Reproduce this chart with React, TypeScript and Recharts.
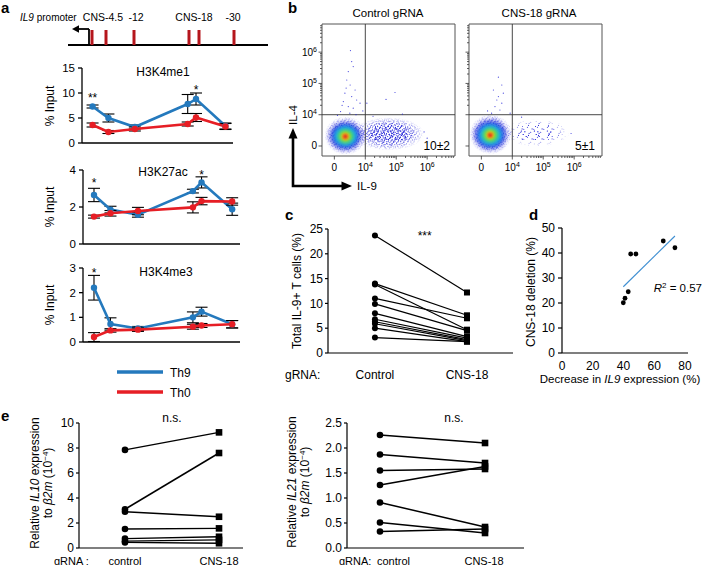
import React from 'react';
import {
  LineChart, Line, XAxis, YAxis, ErrorBar, ReferenceDot, ReferenceLine,
  ReferenceArea, ScatterChart, Scatter,
} from 'recharts';

const SANS = '"Liberation Sans", Arial, Helvetica, sans-serif';
const BLUE = '#2479bd';
const RED = '#e61e25';
const GENE_RED = '#b5161d';
const FLOW_BLUE = '#2222d8';

/* ---------------- panel a data ---------------- */
const siteX = [7, 17.5, 35, 70, 75.5, 95];
const geneBarX = [12, 19, 33, 60.5, 65.5, 83];
const geneLabels = ['CNS-4.5', '-12', 'CNS-18', '-30'];
const geneLabelX = [17.5, 34, 63, 82.5];

const me1Th9 = [7.3, 5.0, 3.2, 7.8, 8.8, 3.4];
const me1Th9Err = [0.3, 0.8, 0.4, 1.9, 1.2, 0.6];
const me1Th0 = [3.6, 2.2, 2.8, 3.8, 5.1, 3.3];
const me1Th0Err = [0.4, 0.3, 0.4, 0.4, 0.8, 0.6];
const ac27Th9 = [2.65, 1.86, 1.58, 2.86, 3.33, 1.88];
const ac27Th9Err = [0.36, 0.18, 0.13, 0.1, 0.3, 0.33];
const ac27Th0 = [1.48, 1.66, 1.78, 1.98, 2.32, 2.3];
const ac27Th0Err = [0.08, 0.15, 0.2, 0.3, 0.2, 0.2];
const me3Th9 = [2.2, 0.73, 0.55, 1.0, 1.23, 0.72];
const me3Th9Err = [0.5, 0.25, 0.08, 0.22, 0.18, 0.15];
const me3Th0 = [0.2, 0.47, 0.5, 0.62, 0.67, 0.72];
const me3Th0Err = [0.18, 0.07, 0.07, 0.1, 0.08, 0.15];
const me1Stars = [{ x: 7, y: 9.0, t: '**' }, { x: 75.5, y: 10.7, t: '*' }];
const ac27Stars = [{ x: 7, y: 3.3, t: '*' }, { x: 75.5, y: 3.75, t: '*' }];
const me3Stars = [{ x: 7, y: 2.81, t: '*' }];

/* ---------------- panel b data (axis units: 0 = 0, 1 = 10^4, 2 = 10^5, 3 = 10^6) ---------------- */
const flowMajor = [0, 1, 2, 3];
const LOG_STEPS = [0.301, 0.477, 0.602, 0.699, 0.778, 0.845, 0.903, 0.954];
const flowMinor = [1, 2, 3].flatMap((d) => LOG_STEPS.map((s) => d + s)).filter((v) => v < 3.88);
const flowGate = 1;
// density contours (bounding boxes), outer -> inner
const ctrlCore = [
  { x1: -0.15, x2: 0.86, y1: -0.12, y2: 0.76 },
  { x1: -0.04, x2: 0.76, y1: -0.02, y2: 0.66 },
  { x1: 0.05, x2: 0.67, y1: 0.05, y2: 0.58 },
  { x1: 0.13, x2: 0.59, y1: 0.11, y2: 0.51 },
  { x1: 0.2, x2: 0.51, y1: 0.16, y2: 0.45 },
  { x1: 0.25, x2: 0.46, y1: 0.2, y2: 0.41 },
  { x1: 0.3, x2: 0.41, y1: 0.25, y2: 0.36 },
];
const cnsCore = [
  { x1: -0.22, x2: 0.8, y1: -0.1, y2: 0.82 },
  { x1: -0.11, x2: 0.69, y1: -0.0, y2: 0.71 },
  { x1: -0.02, x2: 0.6, y1: 0.08, y2: 0.63 },
  { x1: 0.06, x2: 0.52, y1: 0.14, y2: 0.56 },
  { x1: 0.13, x2: 0.44, y1: 0.2, y2: 0.5 },
  { x1: 0.18, x2: 0.39, y1: 0.25, y2: 0.45 },
  { x1: 0.23, x2: 0.34, y1: 0.29, y2: 0.4 },
];
const coreColors = ['#2a2ad8', '#1e86ee', '#22c6df', '#3fd34c', '#e2e020', '#f08a1c', '#de261c'];
const ctrlHalo = [{ x1: -0.32, x2: 1.05, y1: -0.28, y2: 0.95 }];
const cnsHalo = [{ x1: -0.38, x2: 0.98, y1: -0.26, y2: 1.02 }];
const ctrlTail = [
  { x1: 0.6, x2: 2.9, y1: -0.14, y2: 0.92 },
  { x1: 1.0, x2: 2.65, y1: 0.02, y2: 0.75 },
];
const cnsTail = [
  { x1: 0.7, x2: 2.85, y1: -0.02, y2: 0.86 },
  { x1: 0.95, x2: 2.4, y1: 0.12, y2: 0.68 },
];
const ctrlSparse = [
  { x: 0.56, y: 2.7 }, { x: 0.61, y: 2.54 }, { x: 0.45, y: 2.38 }, { x: 0.4, y: 2.11 },
  { x: 0.51, y: 1.95 }, { x: 0.67, y: 1.79 }, { x: 0.34, y: 1.69 }, { x: 0.56, y: 1.58 },
  { x: 0.72, y: 1.47 }, { x: 0.29, y: 1.42 }, { x: 0.83, y: 1.37 }, { x: 0.45, y: 1.26 },
  { x: 0.61, y: 1.21 }, { x: 1.96, y: 1.71 }, { x: 1.67, y: 1.49 }, { x: 1.05, y: 1.37 },
  { x: 0.2, y: 1.1 }, { x: 0.5, y: 1.05 }, { x: 0.7, y: 1.0 }, { x: 0.1, y: 0.98 },
  { x: 0.92, y: 1.12 }, { x: 1.25, y: 0.95 }, { x: 2.9, y: 0.45 }, { x: 3.0, y: 0.25 },
  { x: 0.52, y: 3.05 }, { x: 2.2, y: 1.02 }, { x: 0.38, y: 1.85 }, { x: 0.25, y: 1.3 },
];
const cnsSparse = [
  { x: 0.39, y: 1.79 }, { x: 0.55, y: 1.58 }, { x: 0.5, y: 1.47 }, { x: 0.66, y: 1.37 },
  { x: 0.44, y: 1.26 }, { x: 0.6, y: 1.15 }, { x: 0.71, y: 1.69 }, { x: 0.93, y: 1.05 },
  { x: 0.33, y: 1.05 }, { x: 0.66, y: 1.95 }, { x: 0.2, y: 1.12 }, { x: 2.9, y: 0.4 },
  { x: 1.3, y: 0.92 }, { x: 0.55, y: 2.2 },
];

/* ---------------- panel c data ---------------- */
const cGroups = ['Control', 'CNS-18'];
const cControl = [23.7, 14.0, 13.8, 11.0, 9.9, 8.0, 6.8, 6.3, 5.9, 5.0, 3.1];
const cCns18 = [12.2, 7.6, 4.7, 7.0, 4.5, 3.3, 3.0, 2.7, 2.5, 2.3, 2.3];

/* ---------------- panel d data ---------------- */
const dDecrease = [39.9, 41.0, 43.1, 44.7, 48.1, 65.9, 73.5];
const dDeletion = [20.1, 21.9, 24.5, 39.6, 39.6, 44.8, 42.1];
const dFitX = [39.9, 73.5];
const dFitY = [26.5, 46.8];

/* ---------------- panel e data ---------------- */
const eIl10Control = [7.85, 3.1, 2.9, 1.52, 0.75, 0.55, 0.45];
const eIl10Cns18 = [9.25, 7.6, 2.5, 1.57, 0.9, 0.65, 0.38];
const eIl21Control = [2.26, 1.87, 1.55, 1.26, 0.91, 0.51, 0.33];
const eIl21Cns18 = [2.1, 1.7, 1.58, 1.63, 0.42, 0.3, 0.38];

/* ---------------- helpers ---------------- */
const buildRows = (a: number[], ae: number[], b: number[], be: number[]) =>
  siteX.map((x, i) => ({ x, th9: a[i], th9e: ae[i], th0: b[i], th0e: be[i] }));
const me1Rows = buildRows(me1Th9, me1Th9Err, me1Th0, me1Th0Err);
const ac27Rows = buildRows(ac27Th9, ac27Th9Err, ac27Th0, ac27Th0Err);
const me3Rows = buildRows(me3Th9, me3Th9Err, me3Th0, me3Th0Err);

const pairRows = (ctrl: number[], cns: number[]) =>
  [ctrl, cns].map((arr, g) => {
    const r: any = { g };
    arr.forEach((v, i) => { r['s' + i] = v; });
    return r;
  });

const pairDot = (size: number) => (p: any) => {
  const { cx, cy, index } = p;
  if (cx == null || cy == null) return <g key={`n${index}`} />;
  return index === 0
    ? <circle key={`c${index}`} cx={cx} cy={cy} r={size} fill="#000" />
    : <rect key={`r${index}`} x={cx - size} y={cy - size} width={size * 2} height={size * 2} fill="#000" />;
};

const arrowShape = (p: any) => {
  const { x1, y1, x2, y2 } = p;
  const dir = Math.sign(x2 - x1) || 1;
  return (
    <g>
      <line x1={x1} y1={y1} x2={x2 - dir * 5} y2={y2} stroke="#000" strokeWidth={1.8} />
      <polygon points={`${x2},${y2} ${x2 - dir * 7},${y2 - 3.8} ${x2 - dir * 7},${y2 + 3.8}`} fill="#000" />
    </g>
  );
};

const ellipseShape = (fill: string, filterId?: string, opacity = 1) => (p: any) => {
  const { x, y, width, height } = p;
  return (
    <ellipse cx={x + width / 2} cy={y + height / 2} rx={Math.abs(width) / 2} ry={Math.abs(height) / 2}
      fill={fill} fillOpacity={opacity} filter={filterId ? `url(#${filterId})` : undefined} />
  );
};
const speckleShape = (patternIds: string[]) => (p: any) => {
  const { x, y, width, height } = p;
  return (
    <g mask="url(#softEllipse)">
      {patternIds.map((id) => <rect key={id} x={x} y={y} width={width} height={height} fill={`url(#${id})`} />)}
    </g>
  );
};

const axisText = { fill: '#000', fontSize: 12, fontFamily: SANS };

/* ---------------- defs ---------------- */
const DOTS_A = [[0.8, 1.2], [3.6, 0.5], [6.4, 1.8], [9.1, 0.9], [2.1, 3.7], [4.9, 3.1], [7.7, 4.2], [0.5, 5.6],
  [3.3, 6.3], [6.1, 5.4], [8.8, 6.7], [1.7, 8.6], [4.4, 9.2], [7.0, 8.1], [9.5, 9.4], [5.5, 7.4], [2.6, 1.9], [8.2, 2.8]];
const DOTS_B = [[1.1, 0.6], [4.3, 2.2], [2.4, 4.8], [5.9, 5.6], [0.4, 3.1], [6.2, 0.9]];
const DOTS_C = [[2.2, 1.4], [8.7, 0.7], [11.5, 4.6], [5.1, 6.0], [0.9, 9.8], [7.4, 11.2], [10.3, 9.0], [3.8, 12.1], [12.2, 12.4]];
function Defs() {
  const pat = (id: string, size: number, dots: number[][], r: number, filter?: (i: number) => boolean) => (
    <pattern id={id} patternUnits="userSpaceOnUse" width={size} height={size}>
      {dots.filter((_, i) => (filter ? filter(i) : true)).map(([x, y], i) => (
        <circle key={i} cx={x} cy={y} r={r} fill={FLOW_BLUE} />
      ))}
    </pattern>
  );
  return (
    <svg width={0} height={0} style={{ position: 'absolute' }}>
      <defs>
        <filter id="blur1" x="-50%" y="-50%" width="200%" height="200%"><feGaussianBlur stdDeviation="1.1" /></filter>
        <filter id="blur2" x="-50%" y="-50%" width="200%" height="200%"><feGaussianBlur stdDeviation="2" /></filter>
        <radialGradient id="fadeGrad" cx="0.5" cy="0.5" r="0.5">
          <stop offset="0" stopColor="#fff" />
          <stop offset="0.5" stopColor="#fff" />
          <stop offset="1" stopColor="#000" />
        </radialGradient>
        <mask id="softEllipse" maskContentUnits="objectBoundingBox">
          <rect x="0" y="0" width="1" height="1" fill="url(#fadeGrad)" />
        </mask>
        {pat('spkA', 10, DOTS_A, 0.6)}
        {pat('spkB', 7, DOTS_B, 0.55)}
        {pat('spkC', 13, DOTS_C, 0.55)}
        {pat('spkA2', 10, DOTS_A, 0.55, (i) => i % 3 === 0)}
        {pat('spkC2', 13, DOTS_C, 0.5, (i) => i % 2 === 0)}
      </defs>
    </svg>
  );
}

/* ---------------- panel a ---------------- */
function GeneDiagram() {
  return (
    <div style={{ position: 'absolute', left: 68, top: 10 }}>
      <ScatterChart width={200} height={40} margin={{ top: 0, right: 0, bottom: 0, left: 0 }}>
        <XAxis type="number" dataKey="x" domain={[0, 100]} hide allowDataOverflow />
        <YAxis type="number" dataKey="y" domain={[0, 40]} hide allowDataOverflow />
        <Scatter data={geneBarX.map((x) => ({ x, y: 5 }))} shape={() => <g />} isAnimationActive={false} />
        <ReferenceLine segment={[{ x: 0, y: 5 }, { x: 100, y: 5 }]} stroke="#000" strokeWidth={2} />
        {geneBarX.map((x) => (
          <ReferenceLine key={x} segment={[{ x, y: 5 }, { x, y: 20 }]} stroke={GENE_RED} strokeWidth={3} />
        ))}
        <ReferenceLine segment={[{ x: 10.5, y: 4 }, { x: 10.5, y: 21 }]} stroke="#000" strokeWidth={1.8} />
        <ReferenceLine segment={[{ x: 10.5, y: 21 }, { x: 2, y: 21 }]} stroke="#000" strokeWidth={1.8} shape={arrowShape} />
        {geneLabels.map((t, i) => (
          <ReferenceDot key={t} x={geneLabelX[i]} y={33} r={0} fill="none" stroke="none"
            label={{ value: t, position: 'center', fill: '#000', fontSize: 10.5, fontFamily: SANS }} />
        ))}
      </ScatterChart>
    </div>
  );
}

function Histone({ L, T, W, H, yMax, ticks, rows, stars }: any) {
  const P = 12, YW = 40, XH = 4;
  return (
    <div style={{ position: 'absolute', left: L - YW - P, top: T - P }}>
      <LineChart width={P + YW + W + P} height={P + H + XH + P} data={rows} margin={{ top: P, right: P, bottom: P, left: P }}>
        <XAxis type="number" dataKey="x" domain={[0, 100]} allowDataOverflow tick={false} tickLine={false}
          height={XH} stroke="#000" strokeWidth={1.3} />
        <YAxis type="number" domain={[0, yMax]} allowDataOverflow ticks={ticks} interval={0} width={YW}
          tickSize={4} tickMargin={3} stroke="#000" strokeWidth={1.3} tick={{ ...axisText, fontSize: 11.5 }} />
        <Line dataKey="th9" stroke={BLUE} strokeWidth={2.6} isAnimationActive={false}
          dot={{ r: 3.2, fill: BLUE, stroke: BLUE, strokeWidth: 0 }}>
          <ErrorBar dataKey="th9e" width={6} stroke="#000" strokeWidth={1.1} direction="y" />
        </Line>
        <Line dataKey="th0" stroke={RED} strokeWidth={2.6} isAnimationActive={false}
          dot={{ r: 3.2, fill: RED, stroke: RED, strokeWidth: 0 }}>
          <ErrorBar dataKey="th0e" width={6} stroke="#000" strokeWidth={1.1} direction="y" />
        </Line>
        {stars.map((s: any, i: number) => (
          <ReferenceDot key={i} x={s.x} y={s.y} r={0} fill="none" stroke="none" ifOverflow="visible"
            label={{ value: s.t, position: 'center', fill: '#000', fontSize: 12, fontFamily: SANS }} />
        ))}
      </LineChart>
    </div>
  );
}

/* ---------------- panel b ---------------- */
function PowLabel({ x, y, v, anchor }: any) {
  return (
    <text x={x} y={y} textAnchor={anchor} fontSize={10} fontFamily={SANS} fill="#000">
      {v === 0 ? '0' : (<><tspan>10</tspan><tspan dy={-4} fontSize={7}>{v + 3}</tspan></>)}
    </text>
  );
}
function FlowXTick(props: any) {
  const { x, y, payload } = props;
  const v = payload.value;
  const major = flowMajor.includes(v);
  const ay = y - 5;
  return (
    <g>
      <line x1={x} x2={x} y1={ay} y2={ay + (major ? 3.5 : 2)} stroke="#333" strokeWidth={0.8} />
      {major && <PowLabel x={x} y={y + 10} v={v} anchor="middle" />}
    </g>
  );
}
const flowYTick = (labels: boolean) => (props: any) => {
  const { x, y, payload } = props;
  const v = payload.value;
  const major = flowMajor.includes(v);
  const ax = x + 5;
  return (
    <g>
      <line x1={ax} x2={ax - (major ? 3.5 : 2)} y1={y} y2={y} stroke="#333" strokeWidth={0.8} />
      {major && labels && <PowLabel x={x} y={y + 3.5} v={v} anchor="end" />}
    </g>
  );
};

function FlowPlot({ L, core, halo, tail, sparse, tailPatterns, showY }: any) {
  const P = 6, YW = 30, XH = 22, W = 133, H = 132;
  return (
    <div style={{ position: 'absolute', left: L - YW - P, top: 24 - P }}>
      <ScatterChart width={P + YW + W + P} height={P + H + XH + P} margin={{ top: P, right: P, bottom: P, left: P }}>
        <XAxis type="number" dataKey="x" domain={[-0.4, 3.9]} allowDataOverflow ticks={[...flowMajor, ...flowMinor]}
          interval={0} height={XH} axisLine={false} tickLine={false} tickSize={3} tickMargin={2} tick={<FlowXTick />} />
        <YAxis type="number" dataKey="y" domain={[-0.32, 3.9]} allowDataOverflow ticks={[...flowMajor, ...flowMinor]}
          interval={0} width={YW} axisLine={false} tickLine={false} tickSize={3} tickMargin={2} tick={flowYTick(showY)} />
        {halo.map((b: any, i: number) => (
          <ReferenceArea key={'h' + i} {...b} shape={speckleShape(['spkA', 'spkB', 'spkC'])} ifOverflow="visible" />
        ))}
        {tail.map((b: any, i: number) => (
          <ReferenceArea key={'t' + i} {...b} shape={speckleShape(tailPatterns[i])} ifOverflow="visible" />
        ))}
        {core.map((b: any, i: number) => (
          <ReferenceArea key={'c' + i} {...b} shape={ellipseShape(coreColors[i], i < 5 ? 'blur2' : 'blur1', i === 0 ? 0.75 : 1)}
            ifOverflow="visible" />
        ))}
        <Scatter data={sparse} isAnimationActive={false}
          shape={(p: any) => <circle cx={p.cx} cy={p.cy} r={0.6} fill={FLOW_BLUE} fillOpacity={0.85} />} />
        <ReferenceLine x={flowGate} stroke="#333" strokeWidth={0.9} />
        <ReferenceLine y={flowGate} stroke="#333" strokeWidth={0.9} />
        <ReferenceArea x1={-0.4} x2={3.9} y1={-0.32} y2={3.9} fill="none" stroke="#555" strokeWidth={1} ifOverflow="visible" />
      </ScatterChart>
    </div>
  );
}

/* ---------------- panel c / e ---------------- */
function Paired({ L, T, W, H, xDomain, yDomain, yTicks, ctrl, cns, yFmt, note, xTicks, markR, lineW }: any) {
  const P = 16, YW = 36, XH = xTicks ? 30 : 4;
  const rows = pairRows(ctrl, cns);
  return (
    <div style={{ position: 'absolute', left: L - YW - P, top: T - P }}>
      <LineChart width={P + YW + W + P} height={P + H + XH + P} data={rows} margin={{ top: P, right: P, bottom: P, left: P }}>
        <XAxis type="number" dataKey="g" domain={xDomain} allowDataOverflow height={XH} stroke="#000" strokeWidth={1.2}
          ticks={xTicks ? [0, 1] : []} interval={0} tickLine={false} tickSize={6} tickMargin={11.5}
          tick={xTicks ? axisText : false} tickFormatter={(v: number) => cGroups[v] ?? ''} />
        <YAxis type="number" domain={yDomain} allowDataOverflow ticks={yTicks} interval={0} width={YW}
          tickSize={3} tickMargin={2} stroke="#000" strokeWidth={1.2} tick={axisText} tickFormatter={yFmt} />
        {ctrl.map((_: number, i: number) => (
          <Line key={i} dataKey={'s' + i} stroke="#000" strokeWidth={lineW} isAnimationActive={false} dot={pairDot(markR)} />
        ))}
        <ReferenceDot x={note.x} y={note.y} r={0} fill="none" stroke="none" ifOverflow="visible"
          label={{ value: note.t, position: 'center', fill: '#000', fontSize: 12, fontFamily: SANS }} />
      </LineChart>
    </div>
  );
}

/* ---------------- panel d ---------------- */
function PanelD() {
  const P = 8, YW = 36, XH = 22, L = 562, T = 228, W = 126, H = 125;
  const pts = dDecrease.map((x, i) => ({ x, y: dDeletion[i] }));
  return (
    <div style={{ position: 'absolute', left: L - YW - P, top: T - P }}>
      <ScatterChart width={P + YW + W + P} height={P + H + XH + P} margin={{ top: P, right: P, bottom: P, left: P }}>
        <XAxis type="number" dataKey="x" domain={[0, 82]} allowDataOverflow ticks={[0, 20, 40, 60, 80]} interval={0}
          height={XH} stroke="#000" strokeWidth={1.2} tickLine={false} tickSize={3} tickMargin={5} tick={axisText} />
        <YAxis type="number" dataKey="y" domain={[0, 50]} allowDataOverflow ticks={[0, 10, 20, 30, 40, 50]} interval={0}
          width={YW} stroke="#000" strokeWidth={1.2} tickSize={4} tickMargin={3} tick={axisText} />
        <ReferenceLine segment={[{ x: dFitX[0], y: dFitY[0] }, { x: dFitX[1], y: dFitY[1] }]} stroke="#3f8fd2" strokeWidth={1.1} />
        <Scatter data={pts} isAnimationActive={false} shape={(p: any) => <circle cx={p.cx} cy={p.cy} r={2.4} fill="#000" />} />
      </ScatterChart>
    </div>
  );
}

/* ---------------- overlay text ---------------- */
function RotText({ x, y, children, size = 12 }: any) {
  return (
    <text x={x} y={y} dy="0.35em" textAnchor="middle" fontSize={size} transform={`rotate(-90 ${x} ${y})`}>{children}</text>
  );
}
function Overlay() {
  const b2m = (
    <>to <tspan fontStyle="italic">β2m</tspan> (10<tspan dy={-4} fontSize={8}>−4</tspan><tspan dy={4}>)</tspan></>
  );
  return (
    <svg width={705} height={565} style={{ position: 'absolute', left: 0, top: 0, pointerEvents: 'none' }}
      fontFamily={SANS} fill="#000">
      {/* a */}
      <text x={1} y={13} fontSize={15} fontWeight="bold">a</text>
      <text x={20} y={20.5} fontSize={10}><tspan fontStyle="italic">IL9</tspan> promoter</text>
      <text x={163} y={75.5} fontSize={12} textAnchor="middle">H3K4me1</text>
      <text x={163} y={175.5} fontSize={12} textAnchor="middle">H3K27ac</text>
      <text x={166} y={276} fontSize={12} textAnchor="middle">H3K4me3</text>
      <RotText x={50} y={106}>% Input</RotText>
      <RotText x={50} y={207}>% Input</RotText>
      <RotText x={50} y={305}>% Input</RotText>
      <line x1={117} x2={163} y1={372} y2={372} stroke={BLUE} strokeWidth={3.5} />
      <text x={170} y={376.5} fontSize={12}>Th9</text>
      <line x1={117} x2={163} y1={392} y2={392} stroke={RED} strokeWidth={3.5} />
      <text x={170} y={396.5} fontSize={12}>Th0</text>
      {/* b */}
      <text x={288} y={13} fontSize={15} fontWeight="bold">b</text>
      <text x={388} y={17} fontSize={11.5} textAnchor="middle">Control gRNA</text>
      <text x={539} y={17} fontSize={11.5} textAnchor="middle">CNS-18 gRNA</text>
      <text x={450} y={150} fontSize={12} textAnchor="end">10±2</text>
      <text x={595} y={150} fontSize={12} textAnchor="end">5±1</text>
      <polyline points="293,137 293,186 343,186" fill="none" stroke="#000" strokeWidth={2.6} />
      <polygon points="293,128 288.5,138.5 297.5,138.5" fill="#000" />
      <polygon points="352,186 341.5,181.5 341.5,190.5" fill="#000" />
      <RotText x={293} y={115} size={11.5}>IL-4</RotText>
      <text x={357} y={190} fontSize={11.5}>IL-9</text>
      {/* c */}
      <text x={285} y={220} fontSize={15} fontWeight="bold">c</text>
      <RotText x={297} y={291}>Total IL-9+ T cells (%)</RotText>
      <text x={285} y={379} fontSize={12}>gRNA:</text>
      {/* d */}
      <text x={529} y={220} fontSize={15} fontWeight="bold">d</text>
      <RotText x={531} y={292}>CNS-18 deletion (%)</RotText>
      <text x={620} y={383} fontSize={11.5} textAnchor="middle">Decrease in <tspan fontStyle="italic">IL9</tspan> expression (%)</text>
      <text x={702} y={292} fontSize={11.5} textAnchor="end"><tspan fontStyle="italic">R</tspan><tspan dy={-4} fontSize={8}>2</tspan><tspan dy={4}> = 0.57</tspan></text>
      {/* e */}
      <text x={1} y={421} fontSize={15} fontWeight="bold">e</text>
      <RotText x={35} y={483}>Relative <tspan fontStyle="italic">IL10</tspan> expression</RotText>
      <RotText x={48} y={483}>{b2m}</RotText>
      <text x={54} y={564.5} fontSize={11}>gRNA :</text>
      <text x={125} y={564.5} fontSize={11} textAnchor="middle">control</text>
      <text x={219} y={564.5} fontSize={11} textAnchor="middle">CNS-18</text>
      <RotText x={292} y={482}>Relative <tspan fontStyle="italic">IL21</tspan> expression</RotText>
      <RotText x={305} y={482}>{b2m}</RotText>
      <text x={339} y={564.5} fontSize={11}>gRNA:</text>
      <text x={377} y={564.5} fontSize={11}>control</text>
      <text x={484} y={564.5} fontSize={11} textAnchor="middle">CNS-18</text>
    </svg>
  );
}

export default function App() {
  return (
    <div style={{ position: 'absolute', left: 0, top: 0, width: 705, height: 565, background: '#fff', overflow: 'hidden' }}>
      <Defs />
      <GeneDiagram />
      <Histone L={82} T={68} W={151} H={75} yMax={15} ticks={[0, 5, 10, 15]} rows={me1Rows} stars={me1Stars} />
      <Histone L={83} T={170} W={157} H={74} yMax={4} ticks={[0, 2, 4]} rows={ac27Rows} stars={ac27Stars} />
      <Histone L={83} T={268} W={157} H={74} yMax={3} ticks={[0, 1, 2, 3]} rows={me3Rows} stars={me3Stars} />
      <FlowPlot L={322} core={ctrlCore} halo={ctrlHalo} tail={ctrlTail}
        tailPatterns={[['spkA', 'spkB', 'spkC'], ['spkA2', 'spkC2']]} sparse={ctrlSparse} showY />
      <FlowPlot L={469} core={cnsCore} halo={cnsHalo} tail={cnsTail}
        tailPatterns={[['spkA2', 'spkC2'], ['spkC2']]} sparse={cnsSparse} showY={false} />
      <Paired L={328} T={229} W={185} H={124} xDomain={[-0.51, 1.5]} yDomain={[0, 25]} yTicks={[0, 5, 10, 15, 20, 25]}
        ctrl={cControl} cns={cCns18} note={{ x: 0.54, y: 23.7, t: '***' }} xTicks markR={3} lineW={1.2} />
      <PanelD />
      <Paired L={79} T={423} W={164} H={125} xDomain={[-0.489, 1.255]} yDomain={[0, 10]} yTicks={[0, 2, 4, 6, 8, 10]}
        ctrl={eIl10Control} cns={eIl10Cns18} note={{ x: 0.5, y: 10.4, t: 'n.s.' }} markR={3.3} lineW={1.5} />
      <Paired L={347} T={423} W={177} H={125} xDomain={[-0.314, 1.371]} yDomain={[0, 2.5]}
        yTicks={[0, 0.5, 1, 1.5, 2, 2.5]} yFmt={(v: number) => v.toFixed(1)}
        ctrl={eIl21Control} cns={eIl21Cns18} note={{ x: 0.705, y: 2.6, t: 'n.s.' }} markR={3.3} lineW={1.5} />
      <Overlay />
    </div>
  );
}
